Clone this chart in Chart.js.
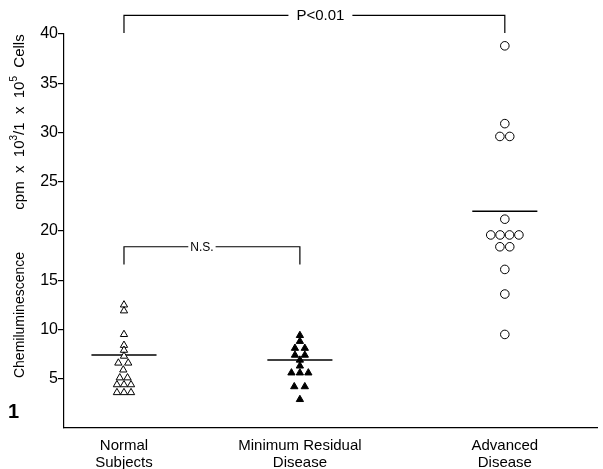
<!DOCTYPE html>
<html>
<head>
<meta charset="utf-8">
<script src="https://cdn.jsdelivr.net/npm/chart.js@4/dist/chart.umd.min.js"></script>
<style>
  html, body { margin: 0; padding: 0; background: #fff; }
  #wrap { width: 603px; height: 469px; }
</style>
</head>
<body>
<div id="wrap"><canvas id="c" width="603" height="469"></canvas></div>
<script>
// ---------- data ----------
const categories = [["Normal", "Subjects"], ["Minimum Residual", "Disease"], ["Advanced", "Disease"]];
const categoryPos = [1, 2, 3.165];

const normalValues = [12.5, 11.9, 9.5, 8.4, 7.9, 7.3, 6.6, 6.6, 5.9, 5.1, 5.1, 4.4, 4.4, 4.4, 3.6, 3.6, 3.6];
const normalJitter = [0, 0, 0, 0, 0, 0, -0.8, 0.6, -0.1, -0.6, 0.5, -1, 0, 1, -1, 0, 1];

const mrdValues = [9.4, 8.8, 8.1, 8.1, 7.4, 7.4, 6.9, 6.3, 5.6, 5.6, 5.6, 4.2, 4.2, 2.9];
const mrdJitter = [0, 0, -0.7, 0.7, -0.7, 0.7, 0, 0, -1.2, 0, 1.2, -0.8, 0.7, 0];

const advValues = [38.8, 30.9, 29.6, 29.6, 21.2, 19.6, 19.6, 19.6, 19.6, 18.4, 18.4, 16.1, 13.6, 9.5];
const advJitter = [0, 0, -0.7, 0.7, 0, -2.0, -0.67, 0.67, 2.0, -0.7, 0.7, 0, 0, 0];

const groupMeans = [7.4, 6.9, 22.0];

const yTicks = [5, 10, 15, 20, 25, 30, 35, 40];

const pBracket = { from: 0, to: 2, top: 41.9, foot: 40.1, label: "P<0.01" };
const nsBracket = { from: 0, to: 1, top: 18.4, foot: 16.6, label: "N.S." };

// ---------- layout constants ----------
const JITTER_UNIT = 0.04;   // x-units per jitter slot
const MEAN_HALF = 0.185;    // half-width of mean bars in x-units
const FONT = "'Liberation Sans', Arial, Helvetica, sans-serif";

function pts(values, jitter, idx) {
  return values.map((v, i) => ({ x: categoryPos[idx] + jitter[i] * JITTER_UNIT, y: v }));
}
function meanLine(idx) {
  return [
    { x: categoryPos[idx] - MEAN_HALF, y: groupMeans[idx] },
    { x: categoryPos[idx] + MEAN_HALF, y: groupMeans[idx] }
  ];
}

const annotations = {
  id: 'annotations',
  afterDraw(chart) {
    const ctx = chart.ctx;
    const xs = chart.scales.x, ys = chart.scales.y;
    ctx.save();
    ctx.strokeStyle = '#000';
    ctx.fillStyle = '#000';
    ctx.lineWidth = 1.2;

    function bracket(b, fontSize, gap, shift) {
      const x1 = xs.getPixelForValue(categoryPos[b.from]);
      const x2 = xs.getPixelForValue(categoryPos[b.to]);
      const yt = ys.getPixelForValue(b.top);
      const yf = ys.getPixelForValue(b.foot);
      ctx.font = fontSize + 'px ' + FONT;
      const tw = ctx.measureText(b.label).width;
      const cx = (x1 + x2) / 2 + shift;
      ctx.beginPath();
      ctx.moveTo(x1, yf); ctx.lineTo(x1, yt); ctx.lineTo(cx - tw / 2 - gap, yt);
      ctx.moveTo(cx + tw / 2 + gap, yt); ctx.lineTo(x2, yt); ctx.lineTo(x2, yf);
      ctx.stroke();
      ctx.textAlign = 'center';
      ctx.textBaseline = 'middle';
      ctx.fillText(b.label, cx, yt + 1);
    }
    bracket(pBracket, 15, 8, 6);
    bracket(nsBracket, 12, 2, -10);

    // y-axis title (two parts, with superscripts)
    function richVertical(parts, cx, cy, size) {
      ctx.save();
      ctx.translate(cx, cy);
      ctx.rotate(-Math.PI / 2);
      ctx.textBaseline = 'middle';
      ctx.textAlign = 'left';
      let w = 0;
      parts.forEach(p => {
        ctx.font = (p.sup ? Math.round(size * 0.65) : size) + 'px ' + FONT;
        p.w = ctx.measureText(p.t).width; w += p.w;
      });
      let x = -w / 2;
      parts.forEach(p => {
        ctx.font = (p.sup ? Math.round(size * 0.65) : size) + 'px ' + FONT;
        ctx.fillText(p.t, x, p.sup ? -6 : 0);
        x += p.w;
      });
      ctx.restore();
    }
    richVertical([{ t: 'Chemiluminescence' }], 20, 315, 14);
    richVertical([
      { t: 'cpm  x  10' }, { t: '3', sup: true }, { t: '/1  x  10' }, { t: '5', sup: true }, { t: '  Cells' }
    ], 20, 122, 15);

    // figure number
    ctx.font = 'bold 20px ' + FONT;
    ctx.textAlign = 'left';
    ctx.textBaseline = 'alphabetic';
    ctx.fillText('1', 8, 418);
    ctx.restore();
  }
};

const meanStyle = { type: 'line', borderColor: '#000', borderWidth: 1.5, pointRadius: 0, fill: false };

new Chart(document.getElementById('c'), {
  type: 'scatter',
  data: {
    datasets: [
      { label: 'Normal Subjects', data: pts(normalValues, normalJitter, 0), pointStyle: 'triangle', pointRadius: 4.2,
        backgroundColor: '#fff', borderColor: '#000', borderWidth: 1 },
      { label: 'Minimum Residual Disease', data: pts(mrdValues, mrdJitter, 1), pointStyle: 'triangle', pointRadius: 4.2,
        backgroundColor: '#000', borderColor: '#000', borderWidth: 1 },
      { label: 'Advanced Disease', data: pts(advValues, advJitter, 2), pointStyle: 'circle', pointRadius: 4.3,
        backgroundColor: '#fff', borderColor: '#000', borderWidth: 1 },
      Object.assign({ label: 'mean N', data: meanLine(0) }, meanStyle),
      Object.assign({ label: 'mean MRD', data: meanLine(1) }, meanStyle),
      Object.assign({ label: 'mean Adv', data: meanLine(2) }, meanStyle)
    ]
  },
  options: {
    responsive: false,
    animation: false,
    devicePixelRatio: 1,
    layout: { padding: { top: 34, right: 5, left: 0, bottom: 0 } },
    plugins: { legend: { display: false }, tooltip: { enabled: false } },
    scales: {
      x: {
        type: 'linear',
        min: 0.659, max: 3.693,
        afterBuildTicks: s => { s.ticks = categoryPos.map(v => ({ value: v })); },
        afterFit: s => { s.height = 41; },
        grid: { display: false },
        border: { display: true, color: '#000', width: 1.2 },
        ticks: {
          color: '#000', padding: 2,
          font: { family: FONT, size: 15, lineHeight: 1.1 },
          maxRotation: 0, autoSkip: false,
          callback: (v) => { const i = categoryPos.indexOf(v); return i >= 0 ? categories[i] : ''; }
        }
      },
      y: {
        type: 'linear',
        min: 0, max: 40,
        afterBuildTicks: s => { s.ticks = yTicks.map(v => ({ value: v })); },
        afterFit: s => { s.width = 64; },
        grid: { drawOnChartArea: false, drawTicks: true, tickLength: 6, color: '#000', lineWidth: 1.2 },
        border: { display: true, color: '#000', width: 1.2 },
        ticks: { color: '#000', padding: 0, font: { family: FONT, size: 16 } }
      }
    }
  },
  plugins: [annotations]
});
</script>
</body>
</html>
